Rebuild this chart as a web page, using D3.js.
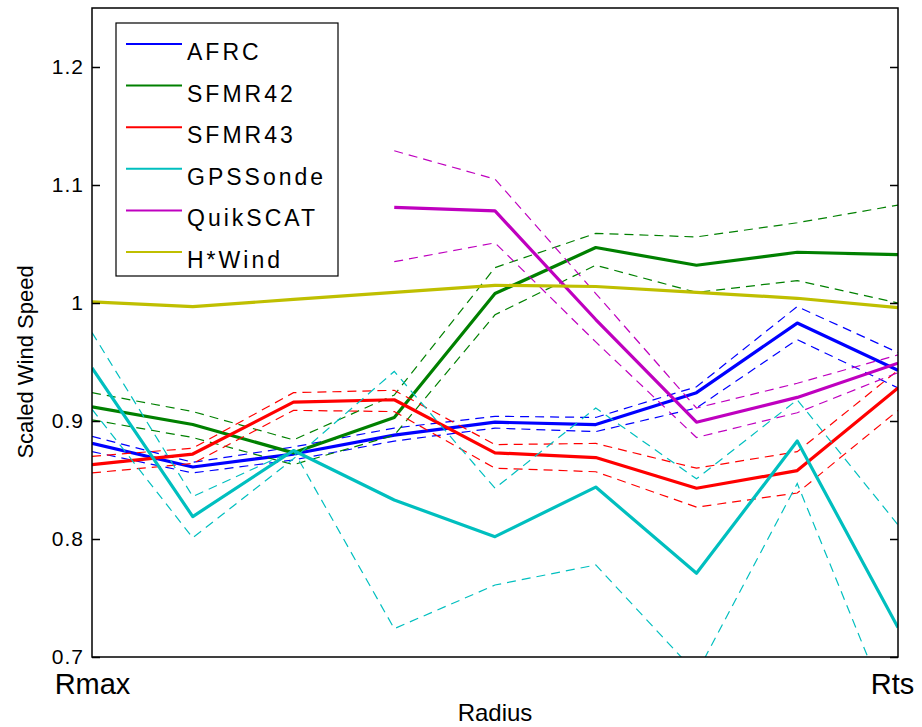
<!DOCTYPE html>
<html>
<head>
<meta charset="utf-8">
<script src="https://cdn.jsdelivr.net/npm/d3@7"></script>
<style>
  body { margin: 0; background: #fff; }
  text { font-family: "Liberation Sans", Arial, sans-serif; fill: #000; }
</style>
</head>
<body>
<div id="chart"></div>
<script>
// radius positions (Rmax .. Rts), only the ends are labelled
const radius = [0, 1, 2, 3, 4, 5, 6, 7, 8];
const xTicks = [0, 8];
const xTickLabels = ["Rmax", "Rts"];
const yTicks = [0.7, 0.8, 0.9, 1.0, 1.1, 1.2];

const afrc     = [0.881, 0.861, 0.872, 0.888, 0.899, 0.897, 0.924, 0.983, 0.943];
const afrcHi   = [0.887, 0.865, 0.878, 0.894, 0.904, 0.903, 0.929, 0.997, 0.958];
const afrcLo   = [0.874, 0.856, 0.867, 0.883, 0.894, 0.891, 0.911, 0.969, 0.928];

const sfmr42   = [0.912, 0.897, 0.873, 0.903, 1.008, 1.047, 1.032, 1.043, 1.041];
const sfmr42Hi = [0.924, 0.908, 0.884, 0.922, 1.030, 1.059, 1.056, 1.068, 1.083];
const sfmr42Lo = [0.901, 0.886, 0.863, 0.888, 0.990, 1.032, 1.009, 1.019, 1.000];

const sfmr43   = [0.863, 0.872, 0.916, 0.918, 0.873, 0.869, 0.843, 0.858, 0.928];
const sfmr43Hi = [0.870, 0.877, 0.924, 0.926, 0.880, 0.881, 0.860, 0.874, 0.943];
const sfmr43Lo = [0.856, 0.864, 0.909, 0.908, 0.860, 0.857, 0.827, 0.839, 0.909];

const gps      = [0.945, 0.819, 0.875, 0.833, 0.802, 0.844, 0.771, 0.883, 0.725];
const gpsA     = [0.975, 0.836, 0.875, 0.724, 0.761, 0.778, 0.686, 0.847, 0.637];
const gpsB     = [0.910, 0.801, 0.868, 0.942, 0.843, 0.911, 0.851, 0.918, 0.812];

const quik     = [null, null, null, 1.081, 1.078, 0.986, 0.899, 0.920, 0.949];
const quikHi   = [null, null, null, 1.129, 1.105, 1.008, 0.911, 0.932, 0.956];
const quikLo   = [null, null, null, 1.035, 1.051, 0.967, 0.886, 0.907, 0.941];

const hwind    = [1.001, 0.997, 1.003, 1.009, 1.015, 1.014, 1.009, 1.004, 0.996];

const series = [
  { name: "AFRC",     color: "#0000ff", mean: afrc,   bands: [afrcHi, afrcLo] },
  { name: "SFMR42",   color: "#008000", mean: sfmr42, bands: [sfmr42Hi, sfmr42Lo] },
  { name: "SFMR43",   color: "#ff0000", mean: sfmr43, bands: [sfmr43Hi, sfmr43Lo] },
  { name: "GPSSonde", color: "#00bfbf", mean: gps,    bands: [gpsA, gpsB] },
  { name: "QuikSCAT", color: "#bf00bf", mean: quik,   bands: [quikHi, quikLo] },
  { name: "H*Wind",   color: "#bfbf00", mean: hwind,  bands: [] }
];

const W = 922, H = 727;
const margin = { top: 8, right: 24, bottom: 70, left: 92 },
      width = W - margin.left - margin.right,
      height = H - margin.top - margin.bottom;

const svg = d3.select("#chart").append("svg")
  .attr("width", W)
  .attr("height", H);

const g = svg.append("g")
  .attr("transform", `translate(${margin.left},${margin.top})`);

const x = d3.scaleLinear().domain([0, 8]).range([0, width]);
const y = d3.scaleLinear().domain([0.7, 1.25]).range([height, 0]);

g.append("clipPath").attr("id", "plotclip")
  .append("rect").attr("width", width).attr("height", height);

const line = d3.line()
  .defined(d => d[1] != null)
  .x(d => x(d[0]))
  .y(d => y(d[1]));

const plot = g.append("g").attr("clip-path", "url(#plotclip)");

series.forEach(s => {
  s.bands.forEach(b => {
    plot.append("path")
      .datum(radius.map((r, i) => [r, b[i]]))
      .attr("fill", "none")
      .attr("stroke", s.color)
      .attr("stroke-width", 1.2)
      .attr("stroke-dasharray", "9,6")
      .attr("d", line);
  });
  plot.append("path")
    .datum(radius.map((r, i) => [r, s.mean[i]]))
    .attr("fill", "none")
    .attr("stroke", s.color)
    .attr("stroke-width", 3.2)
    .attr("stroke-linejoin", "round")
    .attr("d", line);
});

// axes box with inward ticks, matlab style
g.append("rect")
  .attr("width", width).attr("height", height)
  .attr("fill", "none").attr("stroke", "#000").attr("stroke-width", 1.5);

const yl = g.append("g").call(d3.axisLeft(y).tickValues(yTicks).tickSize(-8).tickPadding(8)
  .tickFormat(d => d3.format("~g")(d)));
yl.select(".domain").remove();
yl.selectAll("line").attr("stroke-width", 1.5);
yl.selectAll("text").style("font-size", "21px").style("letter-spacing", "1px");

const yr = g.append("g").attr("transform", `translate(${width},0)`)
  .call(d3.axisRight(y).tickValues(yTicks).tickSize(-8).tickFormat(""));
yr.select(".domain").remove();
yr.selectAll("line").attr("stroke-width", 1.5);

const xb = g.append("g").attr("transform", `translate(0,${height})`)
  .call(d3.axisBottom(x).tickValues(xTicks).tickSize(0).tickPadding(16)
    .tickFormat((d, i) => xTickLabels[i]));
xb.select(".domain").remove();
xb.selectAll("text").style("font-size", "29px").attr("dy", "0.71em");
xb.selectAll(".tick:last-of-type text").attr("dx", "-6");

g.append("text")
  .attr("x", width / 2)
  .attr("y", height + 64)
  .attr("text-anchor", "middle")
  .style("font-size", "24px")
  .text("Radius");

svg.append("text")
  .attr("transform", `translate(33,362) rotate(-90)`)
  .attr("text-anchor", "middle")
  .style("font-size", "22px")
  .text("Scaled Wind Speed");

// legend
const legend = svg.append("g");
legend.append("rect")
  .attr("x", 116).attr("y", 23)
  .attr("width", 222).attr("height", 253)
  .attr("fill", "#fff").attr("stroke", "#000").attr("stroke-width", 1.2);

series.forEach((s, i) => {
  const ly = 44 + i * 41.6;
  legend.append("line")
    .attr("x1", 126).attr("x2", 182)
    .attr("y1", ly).attr("y2", ly)
    .attr("stroke", s.color).attr("stroke-width", 2);
  legend.append("text")
    .attr("x", 187).attr("y", ly + 16)
    .style("font-size", "23px")
    .style("letter-spacing", "3px")
    .text(s.name);
});
</script>
</body>
</html>
